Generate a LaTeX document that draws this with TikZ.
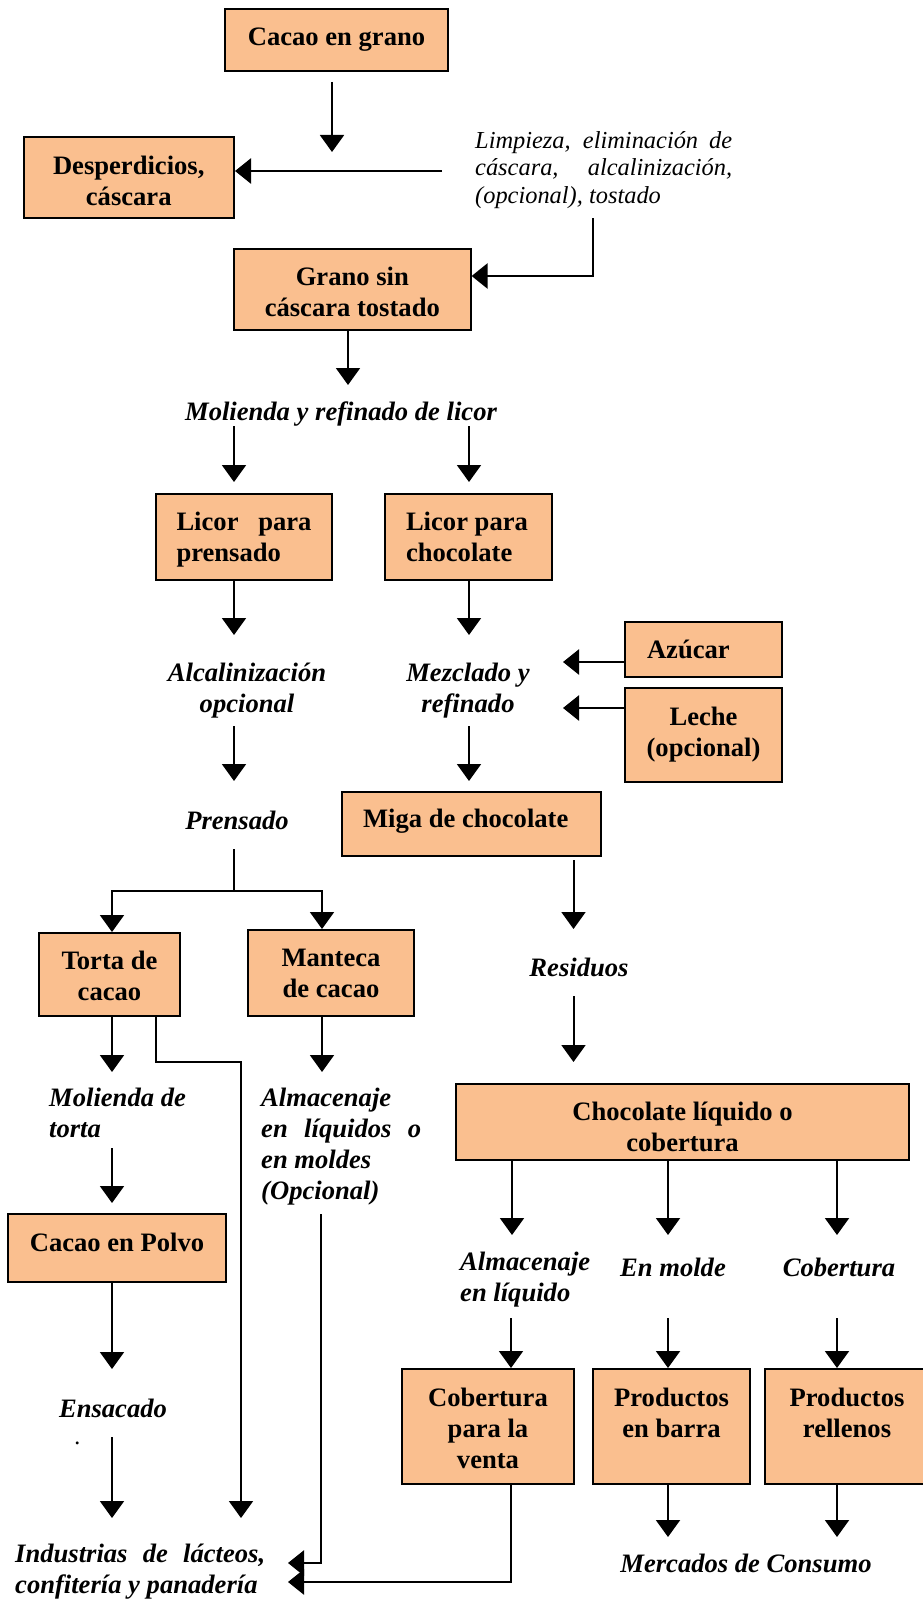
\documentclass[tikz,border=0pt]{standalone}
\usepackage{fontspec}
\setmainfont{Liberation Serif}
\usetikzlibrary{arrows.meta}
\definecolor{boxfill}{RGB}{250,191,143}
% stacked lines, first baseline = box baseline
\newcommand{\txtlines}[2]{\begin{tabular}[t]{@{}#1@{}}#2\end{tabular}}
% a line spread to a fixed width (justified)
\newcommand{\spread}[2]{\makebox[#1][s]{#2}}
% shift box text down without changing its size
\newcommand{\dropby}[2]{\raisebox{-#1}[\height][\depth]{#2}}

\begin{document}
\begin{tikzpicture}[x=1pt,y=-1pt,
  box/.style={draw=black, line width=2pt, fill=boxfill, inner sep=0pt,
    font=\bfseries\fontsize{26.6}{31}\selectfont},
  lbl/.style={inner sep=0pt, font=\bfseries\itshape\fontsize{26.6}{31}\selectfont},
  note/.style={inner sep=0pt, font=\itshape\fontsize{24.4}{27.5}\selectfont},
  wire/.style={line width=2pt},
  arr/.style={line width=2pt, -{Triangle[width=24pt,length=17pt]}},
  feed/.style={line width=2.6pt, -{Triangle[width=25pt,length=16pt]}}
]
\useasboundingbox (0,0) rectangle (923,1600);

% ---------- boxes ----------
\node[box, minimum width=223pt, minimum height=62pt] (cacao) at (336.5,40) {Cacao en grano};
\node[box, minimum width=210.5pt, minimum height=81pt] (desp) at (128.75,177.5) {\dropby{6pt}{\txtlines{c}{Desperdicios,\\cáscara}}};
\node[box, minimum width=236.6pt, minimum height=81pt] (grano) at (352.3,289.5) {\dropby{5pt}{\txtlines{c}{Grano sin\\cáscara tostado}}};
\node[box, minimum width=176pt, minimum height=86pt] (licorp) at (244,537) {\dropby{3pt}{\makebox[135pt][l]{\txtlines{l}{\spread{135pt}{Licor para}\\prensado}}}};
\node[box, minimum width=167pt, minimum height=86pt] (licorc) at (468.5,537) {\dropby{3pt}{\makebox[125pt][l]{\txtlines{l}{Licor para\\chocolate}}}};
\node[box, minimum width=157pt, minimum height=55pt] (azucar) at (703.5,649.5) {\makebox[113pt][l]{Azúcar}};
\node[box, minimum width=157pt, minimum height=94pt] (leche) at (703.5,735) {\txtlines{c}{Leche\\(opcional)}};
\node[box, minimum width=259pt, minimum height=64pt] (miga) at (471.5,824) {\dropby{-3pt}{\makebox[217pt][l]{Miga de chocolate}}};
\node[box, minimum width=141pt, minimum height=83pt] (torta) at (109.5,974.5) {\dropby{4pt}{\txtlines{c}{Torta de\\cacao}}};
\node[box, minimum width=166pt, minimum height=86pt] (manteca) at (331,973) {\dropby{3pt}{\txtlines{c}{Manteca\\de cacao}}};
\node[box, minimum width=453pt, minimum height=76pt] (choc) at (682.5,1122) {\dropby{8pt}{\txtlines{c}{Chocolate líquido o\\cobertura}}};
\node[box, minimum width=218pt, minimum height=68pt] (polvo) at (117,1248) {\dropby{-6pt}{Cacao en Polvo}};
\node[box, minimum width=172pt, minimum height=115pt] (cobv) at (488,1426.5) {\dropby{5pt}{\txtlines{c}{Cobertura\\para la\\venta}}};
\node[box, minimum width=157pt, minimum height=115pt] (barra) at (671.5,1426.5) {\dropby{5pt}{\txtlines{c}{Productos\\en barra\\~}}};
\node[box, minimum width=164pt, minimum height=115pt] (rell) at (847,1426.5) {\dropby{5pt}{\txtlines{c}{Productos\\rellenos\\~}}};

% ---------- process labels ----------
\node[note, anchor=base west] (limp) at (475,148.3) {\txtlines{l}{\spread{257pt}{Limpieza, eliminación de}\\ \spread{257pt}{cáscara, alcalinización,}\\(opcional), tostado}};
\node[lbl, anchor=base] (molienda) at (341,420) {Molienda y refinado de licor};
\node[lbl, anchor=base] (alcal) at (247,681) {\txtlines{c}{Alcalinización\\opcional}};
\node[lbl, anchor=base] (mezcl) at (468,681) {\txtlines{c}{Mezclado y\\refinado}};
\node[lbl, anchor=base] (prensado) at (237,829) {Prensado};
\node[lbl, anchor=base] (residuos) at (579,976) {Residuos};
\node[lbl, anchor=base west] (moltorta) at (49,1106) {\txtlines{l}{Molienda de\\torta}};
\node[lbl, anchor=base west] (almac) at (261,1106) {\txtlines{l}{Almacenaje\\ \spread{160pt}{en líquidos o}\\en moldes\\(Opcional)}};
\node[lbl, anchor=base west] (almliq) at (460,1270) {\txtlines{l}{Almacenaje\\en líquido}};
\node[lbl, anchor=base] (enmolde) at (673,1276) {En molde};
\node[lbl, anchor=base] (cobert) at (839,1276) {Cobertura};
\node[lbl, anchor=base] (ensacado) at (113,1417) {Ensacado};
\node[note, anchor=base] (dot) at (78,1444) {.};
\node[lbl, anchor=base west] (ind) at (15,1562) {\txtlines{l}{\spread{250pt}{Industrias de lácteos,}\\confitería y panadería}};
\node[lbl, anchor=base] (merc) at (746,1572) {Mercados de Consumo};

% ---------- connectors ----------
\coordinate (c1s) at (332,82);   \coordinate (c1e) at (332,152);
\draw[arr] (c1s) -- (c1e);
\coordinate (l1) at (442,171);
\draw[feed] (l1) -- (l1 -| desp.east);
\coordinate (l2) at (593,218);   \coordinate (l3) at (593,276);
\draw[feed] (l2) -- (l3) -- (l3 -| grano.east);
\coordinate (g1) at (348,385);
\draw[arr] (grano.south -| g1) -- (g1);

\coordinate (m1s) at (234,426);  \coordinate (m1e) at (234,482);
\coordinate (m2s) at (469,426);  \coordinate (m2e) at (469,482);
\draw[arr] (m1s) -- (m1e);
\draw[arr] (m2s) -- (m2e);
\coordinate (a1) at (234,635);   \coordinate (a2) at (469,635);
\draw[arr] (licorp.south -| a1) -- (a1);
\draw[arr] (licorc.south -| a2) -- (a2);
\coordinate (b1s) at (234,726);  \coordinate (b1e) at (234,781);
\coordinate (b2s) at (469,726);  \coordinate (b2e) at (469,781);
\draw[arr] (b1s) -- (b1e);
\draw[arr] (b2s) -- (b2e);
\coordinate (z1) at (563,662);   \coordinate (z2) at (563,708);
\draw[feed] (azucar.west |- z1) -- (z1);
\draw[feed] (leche.west |- z2) -- (z2);

% split after pressing
\coordinate (p0) at (234,849);   \coordinate (pJ) at (234,891);
\coordinate (pL) at (112,891);   \coordinate (pR) at (322,891);
\draw[wire] (p0) -- (pJ);
\draw[arr] (pJ) -- (pL) -- (torta.north -| pL);
\draw[arr] (pJ) -- (pR) -- (manteca.north -| pR);

% chocolate column
\coordinate (r1s) at (573.5,860);  \coordinate (r1e) at (573.5,929);
\coordinate (r2s) at (573.5,996);  \coordinate (r2e) at (573.5,1062);
\draw[arr] (r1s) -- (r1e);
\draw[arr] (r2s) -- (r2e);
\coordinate (e1) at (512,1235);  \coordinate (e2) at (668,1235);  \coordinate (e3) at (837,1235);
\draw[arr] (choc.south -| e1) -- (e1);
\draw[arr] (choc.south -| e2) -- (e2);
\draw[arr] (choc.south -| e3) -- (e3);
\coordinate (f1) at (511,1318);  \coordinate (f2) at (668,1318);  \coordinate (f3) at (837,1318);
\draw[arr] (f1) -- (cobv.north -| f1);
\draw[arr] (f2) -- (barra.north -| f2);
\draw[arr] (f3) -- (rell.north -| f3);
\coordinate (h2) at (668,1537);  \coordinate (h3) at (837,1537);
\draw[arr] (barra.south -| h2) -- (h2);
\draw[arr] (rell.south -| h3) -- (h3);
\coordinate (k1) at (511,1582);  \coordinate (k2) at (288,1582);
\draw[feed] (cobv.south -| k1) -- (k1) -- (k2);

% butter column
\coordinate (q1) at (322,1072);
\draw[arr] (manteca.south -| q1) -- (q1);
\coordinate (s1) at (321,1214);  \coordinate (s2) at (321,1563);  \coordinate (s3) at (288,1563);
\draw[feed] (s1) -- (s2) -- (s3);

% cake / powder column
\coordinate (t1) at (112,1072);
\draw[arr] (torta.south -| t1) -- (t1);
\coordinate (u1) at (156,1062);  \coordinate (u2) at (241,1062);  \coordinate (u3) at (241,1518);
\draw[arr] (torta.south -| u1) -- (u1) -- (u2) -- (u3);
\coordinate (v1s) at (112,1148); \coordinate (v1e) at (112,1203);
\draw[arr] (v1s) -- (v1e);
\coordinate (w1) at (112,1369);
\draw[arr] (polvo.south -| w1) -- (w1);
\coordinate (x1s) at (112,1437); \coordinate (x1e) at (112,1518);
\draw[arr] (x1s) -- (x1e);
\end{tikzpicture}
\end{document}
